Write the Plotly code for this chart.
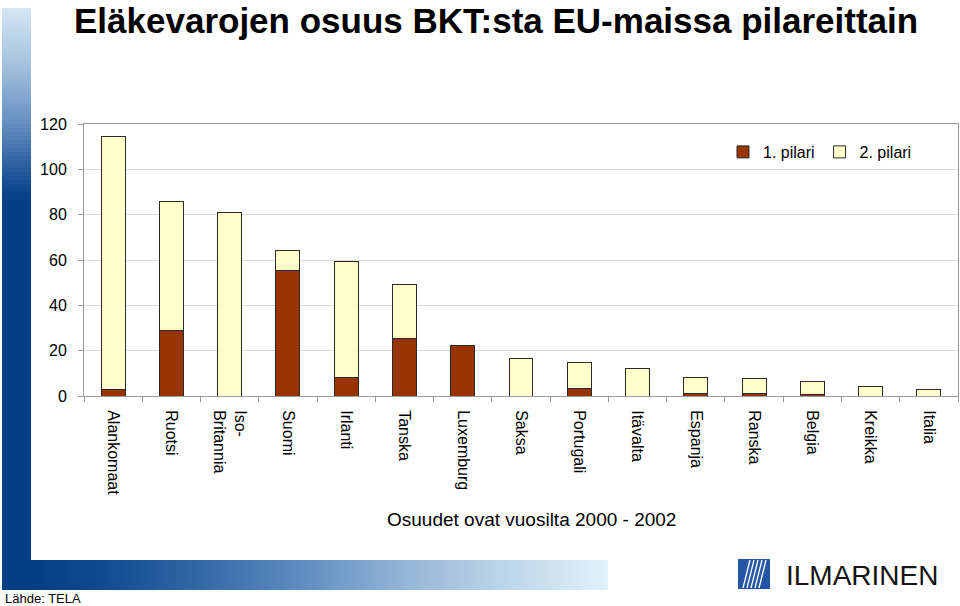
import plotly.graph_objects as go

# ---- data ----
countries = ["Alankomaat", "Ruotsi", "Iso-<br>Britannia", "Suomi", "Irlanti", "Tanska",
             "Luxemburg", "Saksa", "Portugali", "Itävalta", "Espanja", "Ranska",
             "Belgia", "Kreikka", "Italia"]
pilari1 = [3.0, 29.0, 0.0, 55.3, 8.0, 25.2, 22.3, 0.0, 3.2, 0.0, 1.2, 0.9, 0.5, 0.0, 0.0]
pilari2 = [111.5, 57.0, 81.0, 8.8, 51.2, 24.0, 0.0, 16.4, 11.6, 12.2, 7.1, 6.8, 6.0, 4.3, 3.0]
y_ticks = [0, 20, 40, 60, 80, 100, 120]

title_text = "Eläkevarojen osuus BKT:sta EU-maissa pilareittain"
subtitle_text = "Osuudet ovat vuosilta 2000 - 2002"
source_text = "Lähde: TELA"
logo_text = "ILMARINEN"

# ---- geometry helpers (pixel -> paper) ----
W, H = 960, 606
L, R, T, B = 84, 2, 124, 210
PW = W - L - R
PH = H - T - B


def px(x):
    return (x - L) / PW


def py(y):
    return (H - B - y) / PH


def hex2rgb(h):
    h = h.lstrip("#")
    return tuple(int(h[i:i + 2], 16) for i in (0, 2, 4))


def interp(stops, v):
    for (a, ca), (b, cb) in zip(stops, stops[1:]):
        if a <= v <= b:
            t = (v - a) / (b - a) if b > a else 0
            c1, c2 = hex2rgb(ca), hex2rgb(cb)
            return "rgb(%d,%d,%d)" % tuple(round(c1[i] + (c2[i] - c1[i]) * t) for i in range(3))
    return stops[-1][1]


fig = go.Figure()
fig.add_trace(go.Bar(x=countries, y=pilari1, name="1. pilari",
                     marker=dict(color="#993300", line=dict(color="#2a2a2a", width=1))))
fig.add_trace(go.Bar(x=countries, y=pilari2, name="2. pilari",
                     marker=dict(color="#FFFFCC", line=dict(color="#2a2a2a", width=1))))

shapes = []
# vertical gradient bar (left)
vstops = [(8, "#d4e6f4"), (60, "#a8c5e0"), (120, "#6a93c3"), (160, "#3466a5"), (195, "#07428a"), (590, "#043e87")]
step = 4
y = 8
while y < 200:
    shapes.append(dict(type="rect", xref="paper", yref="paper", x0=px(2), x1=px(31),
                       y0=py(y), y1=py(min(y + step, 200)), line=dict(width=0),
                       fillcolor=interp(vstops, y + step / 2)))
    y += step
shapes.append(dict(type="rect", xref="paper", yref="paper", x0=px(2), x1=px(31),
                   y0=py(200), y1=py(590), line=dict(width=0), fillcolor="#043e87"))
# horizontal gradient bar (bottom)
hstops = [(31, "#043e87"), (100, "#0f4a90"), (200, "#3368a6"), (300, "#5d8cc0"),
          (400, "#92b4d6"), (500, "#bbd4e9"), (608, "#e0f2fb")]
step = 5
x = 31
while x < 608:
    shapes.append(dict(type="rect", xref="paper", yref="paper", x0=px(x), x1=px(min(x + step, 608)),
                       y0=py(560), y1=py(590), line=dict(width=0),
                       fillcolor=interp(hstops, x + step / 2)))
    x += step
# logo square
shapes.append(dict(type="rect", xref="paper", yref="paper", x0=px(738), x1=px(770),
                   y0=py(559), y1=py(589), line=dict(width=0), fillcolor="#2356a4"))
for bx in [743, 747, 751, 755, 759]:
    shapes.append(dict(type="line", xref="paper", yref="paper", x0=px(bx), x1=px(bx + 7),
                       y0=py(588), y1=py(560), line=dict(color="white", width=1.3)))

annotations = [
    dict(text="<b>" + title_text + "</b>", xref="paper", yref="paper", x=px(496), y=py(0),
         xanchor="center", yanchor="top", showarrow=False, borderpad=0,
         font=dict(family="Liberation Sans, Arial, sans-serif", size=35, color="black")),
    dict(text=subtitle_text, xref="paper", yref="paper", x=px(531), y=py(519),
         xanchor="center", yanchor="middle", showarrow=False,
         font=dict(family="Liberation Sans, Arial, sans-serif", size=19, color="black")),
    dict(text=source_text, xref="paper", yref="paper", x=px(3), y=py(598),
         xanchor="left", yanchor="middle", showarrow=False,
         font=dict(family="Liberation Sans, Arial, sans-serif", size=13, color="black")),
    dict(text=logo_text, xref="paper", yref="paper", x=px(784), y=py(575),
         xanchor="left", yanchor="middle", showarrow=False,
         font=dict(family="Liberation Sans, Arial, sans-serif", size=28, color="#151515")),
]

fig.update_layout(
    width=W, height=H,
    margin=dict(l=L, r=R, t=T, b=B, pad=0),
    paper_bgcolor="white", plot_bgcolor="white",
    barmode="stack", bargap=0.59,
    font=dict(family="Liberation Sans, Arial, sans-serif", size=16, color="black"),
    showlegend=True,
    legend=dict(orientation="h", x=px(820), y=py(152), xanchor="center", yanchor="middle",
                bgcolor="rgba(0,0,0,0)", font=dict(size=16), itemwidth=30, traceorder="normal"),
    shapes=shapes,
    annotations=annotations,
    xaxis=dict(tickangle=90, showgrid=False, ticks="outside", tickson="boundaries",
               ticklen=5, tickcolor="#999999", showline=True, linecolor="#999999",
               mirror=True, tickfont=dict(size=16), ticklabelstandoff=10, fixedrange=True),
    yaxis=dict(range=[0, 120], tickvals=y_ticks, showgrid=True, gridcolor="#d9d9d9",
               ticks="outside", ticklen=5, tickcolor="#999999", showline=True,
               linecolor="#999999", mirror=True, zeroline=False, tickfont=dict(size=16),
               ticklabelstandoff=8, fixedrange=True),
)

fig.write_html("out.html", config={"displayModeBar": False},
               post_script="document.body.style.margin='0px';document.body.style.overflow='hidden';")
